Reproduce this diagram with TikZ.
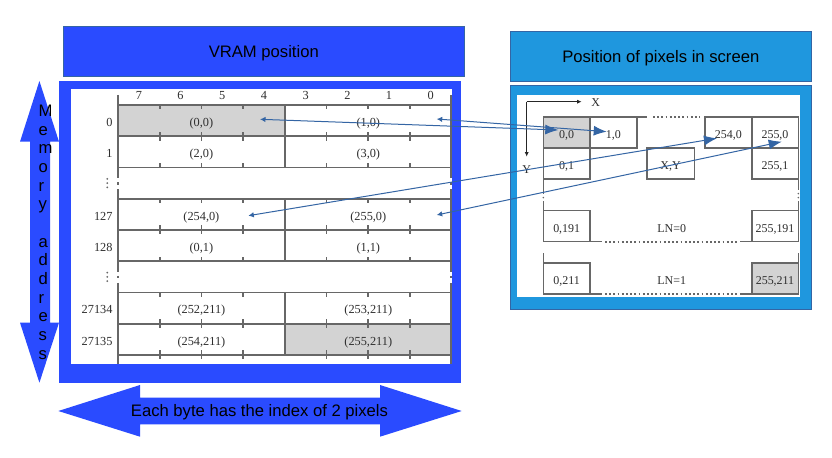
\documentclass[tikz,border=0pt]{standalone}
\usepackage{fontspec}
\setmainfont{Liberation Serif}
\newfontfamily\sansf{Liberation Sans}
\usetikzlibrary{arrows.meta}
\definecolor{vblue}{HTML}{2A4BFF}
\definecolor{lblue}{HTML}{1F97DE}
\definecolor{cline}{HTML}{3465A4}
\definecolor{tgray}{HTML}{676767}
\definecolor{cellgray}{HTML}{D3D3D3}
\definecolor{txt}{HTML}{2E2E2E}
\tikzset{
  tline/.style={draw=tgray, line width=1.6bp},
  tdots/.style={draw=tgray, line width=2bp, dash pattern=on 1.8bp off 2.4bp},
  ttext/.style={font=\fontsize{12.35}{14}\selectfont, text=txt, inner sep=0pt, anchor=base},
  stext/.style={font=\fontsize{12}{14}\selectfont, text=txt, inner sep=0pt, anchor=base},
  sans/.style={font=\sansf\fontsize{16.7}{20}\selectfont, text=black, inner sep=0pt},
  conn/.style={draw=cline, line width=1bp, {Latex[length=5.5bp,width=5.5bp]}-{Latex[length=13bp,width=10bp]}},
  axisarrow/.style={draw=black!85, line width=1bp, -{Latex[length=4.5bp,width=4bp]}},
}
\begin{document}
\begin{tikzpicture}[x=1bp,y=-1bp]
\useasboundingbox (0,0) rectangle (832,458);

% ---------- left: VRAM ----------
\fill[vblue, draw=cline, line width=0.5bp] (63.3,26) rectangle (464.3,76);
\node[sans, anchor=base] (vtitle) at (263.8,57.3) {VRAM position};
\fill[vblue] (59.3,81) rectangle (460.7,382.7);
\fill[white] (71,89) rectangle (451.7,364.3);

% grey cells
\fill[cellgray] (118,105) rectangle (284.85,136.25);
\fill[cellgray] (284.85,323.75) rectangle (451.7,355);

% horizontal lines
\foreach \k in {0,...,8} \draw[tline] (118,105+31.25*\k) -- (451.7,105+31.25*\k);
% outer verticals with gaps
\foreach \xx in {118,451} {
  \draw[tline] (\xx,95) -- (\xx,178.1) (\xx,182.1) -- (\xx,184.6) (\xx,189.1) -- (\xx,271.9)
               (\xx,275.9) -- (\xx,278.4) (\xx,282.9) -- (\xx,364.3);
}
% middle divider
\draw[tline] (284.85,105) -- (284.85,167.5) (284.85,198.75) -- (284.85,261.25) (284.85,292.5) -- (284.85,355);
% ticks
\foreach \r in {0,1,3,4,6,7} {
  \foreach \j in {1,2,3,5,6,7} {
    \draw[tline] (118+41.7*\j,105+31.25*\r) -- ++(0,4.5);
    \draw[tline] (118+41.7*\j,136.25+31.25*\r) -- ++(0,-4.5);
  }
}
\foreach \j in {1,2,3,5,6,7} \draw[tline] (118+41.7*\j,355) -- ++(0,4.5);

% header digits
\foreach \d [count=\i from 0] in {7,6,5,4,3,2,1,0}
  \node[ttext] (hd\d) at (138.85+41.7*\i,100) {\d};

% row labels
\node[ttext, anchor=base east] (r0) at (112.7,126.5) {0};
\node[ttext, anchor=base east] (r1) at (112.7,157.75) {1};
\node[ttext, anchor=base east] (r127) at (112.7,220.25) {127};
\node[ttext, anchor=base east] (r128) at (112.7,251.5) {128};
\node[ttext, anchor=base east] (r27134) at (112.7,314) {27134};
\node[ttext, anchor=base east] (r27135) at (112.7,345.25) {27135};
\foreach \c in {183.125,276.875}
  \foreach \dy in {-4.3,0,4.3}
    \fill[tgray] (107.3,\c+\dy) circle (1bp);

% cell texts
\node[ttext] (c00) at (201.4,126.5) {(0,0)};
\node[ttext] (c10) at (368.3,126.5) {(1,0)};
\node[ttext] (c20) at (201.4,157.75) {(2,0)};
\node[ttext] (c30) at (368.3,157.75) {(3,0)};
\node[ttext] (c2540) at (201.4,220.25) {(254,0)};
\node[ttext] (c2550) at (368.3,220.25) {(255,0)};
\node[ttext] (c01) at (201.4,251.5) {(0,1)};
\node[ttext] (c11) at (368.3,251.5) {(1,1)};
\node[ttext] (c252) at (201.4,314) {(252,211)};
\node[ttext] (c253) at (368.3,314) {(253,211)};
\node[ttext] (c254) at (201.4,345.25) {(254,211)};
\node[ttext] (c255) at (368.3,345.25) {(255,211)};

% vertical double arrow
\fill[vblue] (39.4,81) -- (59,141.7) -- (50,141.7) -- (50,322.7) -- (59,322.7) -- (39.4,382.7)
  -- (20,322.7) -- (30,322.7) -- (30,141.7) -- (20,141.7) -- cycle;
\foreach \ch [count=\i from 0] in {M,e,m,o,r,y}
  \node[sans, anchor=base west] (ma\i) at (38.4,116.7+18.65*\i) {\ch};
\foreach \ch [count=\i from 7] in {a,d,d,r,e,s,s}
  \node[sans, anchor=base west] (ma\i) at (38.4,116.7+18.65*\i) {\ch};

% horizontal double arrow
\fill[vblue] (58.3,411) -- (140,385) -- (140,397.7) -- (380,397.7) -- (380,385) -- (461.7,411)
  -- (380,436.7) -- (380,424.3) -- (140,424.3) -- (140,436.7) -- cycle;
\node[sans, anchor=base] (btext) at (259.5,416.7) {Each byte has the index of 2 pixels};

% ---------- right: screen ----------
\fill[lblue, draw=cline, line width=0.5bp] (510,31.7) rectangle (811.7,81.7);
\node[sans, anchor=base] (stitle) at (660.8,62.3) {Position of pixels in screen};
\fill[lblue, draw=cline, line width=0.5bp] (510,85) rectangle (811.7,309);
\fill[white] (516.7,95) rectangle (800,296.7);

% axes
\coordinate (axO) at (526.7,101.7);
\coordinate (axX) at (581.7,101.7);
\coordinate (axY) at (526.7,156.7);
\draw[axisarrow] (axO) -- (axX);
\draw[axisarrow] (axO) -- (axY);
\node[stext] (lx) at (595.8,106.7) {X};
\node[stext] (ly) at (526.7,173.3) {Y};

% group 1
\fill[cellgray] (543.3,117.3) rectangle (590,148.3);
\draw[tline] (543.3,117.3) rectangle (590,148.3)
  (590,117.3) rectangle (636.7,148.3)
  (543.3,148.3) rectangle (590,179.3)
  (646.7,148.3) rectangle (694.3,179.3)
  (705,117.3) rectangle (751.7,148.3)
  (751.7,117.3) rectangle (798.3,148.3)
  (751.7,148.3) rectangle (798.3,179.3);
\draw[tline] (636.7,117.3) -- (647,117.3);
\draw[tdots] (653,117.3) -- (700,117.3);
\draw[tline] (543.3,179.3) -- (543.3,194);
\draw[tline] (798.3,179.3) -- (798.3,190);
\fill[tgray] (543.3,197.6) circle (0.9bp);
\fill[tgray] (798.3,193.6) circle (0.9bp);
\fill[tgray] (798.3,197.6) circle (0.9bp);

% group 2
\draw[tline] (543.3,201.5) -- (543.3,210.7) (798.3,201.5) -- (798.3,210.7);
\draw[tline] (543.3,210.7) rectangle (590,241.7) (751.7,210.7) rectangle (798.3,241.7);
\draw[tline] (590,241.7) -- (601.7,241.7) (740,241.7) -- (751.7,241.7);
\draw[tdots] (605,241.7) -- (738,241.7);

% group 3
\fill[cellgray] (751.7,263.3) rectangle (798.3,294.3);
\draw[tline] (543.3,253.3) -- (543.3,263.3) (798.3,253.3) -- (798.3,263.3);
\draw[tline] (543.3,263.3) rectangle (590,294.3) (751.7,263.3) rectangle (798.3,294.3);
\draw[tline] (590,294.3) -- (601.7,294.3) (740,294.3) -- (751.7,294.3);
\draw[tdots] (605,294.3) -- (738,294.3);

% screen texts
\node[stext] (s00) at (566.7,138.8) {0,0};
\node[stext] (s10) at (613.3,138.8) {1,0};
\node[stext] (s2540) at (728.3,138.8) {254,0};
\node[stext] (s2550) at (775,138.8) {255,0};
\node[stext] (s01) at (566.7,170) {0,1};
\node[stext] (sxy) at (670.5,170) {X,Y};
\node[stext] (s2551) at (775,170) {255,1};
\node[stext] (s0191) at (566.7,232.3) {0,191};
\node[stext] (ln0) at (671.7,232.3) {LN=0};
\node[stext] (s255191) at (775,232.3) {255,191};
\node[stext] (s0211) at (566.7,285) {0,211};
\node[stext] (ln1) at (671.7,285) {LN=1};
\node[stext] (s255211) at (775,285) {255,211};

% ---------- connectors ----------
\coordinate (vA) at (436.7,119);   \coordinate (sA) at (606.7,131.7);
\coordinate (vB) at (260,119.3);   \coordinate (sB) at (558.3,130);
\coordinate (vC) at (248.3,215.7); \coordinate (sC) at (717,138.3);
\coordinate (vD) at (436.7,215);   \coordinate (sD) at (781.7,141.7);
\draw[conn] (vA) -- (sA);
\draw[conn] (vB) -- (sB);
\draw[conn] (vC) -- (sC);
\draw[conn] (vD) -- (sD);
\end{tikzpicture}
\end{document}
